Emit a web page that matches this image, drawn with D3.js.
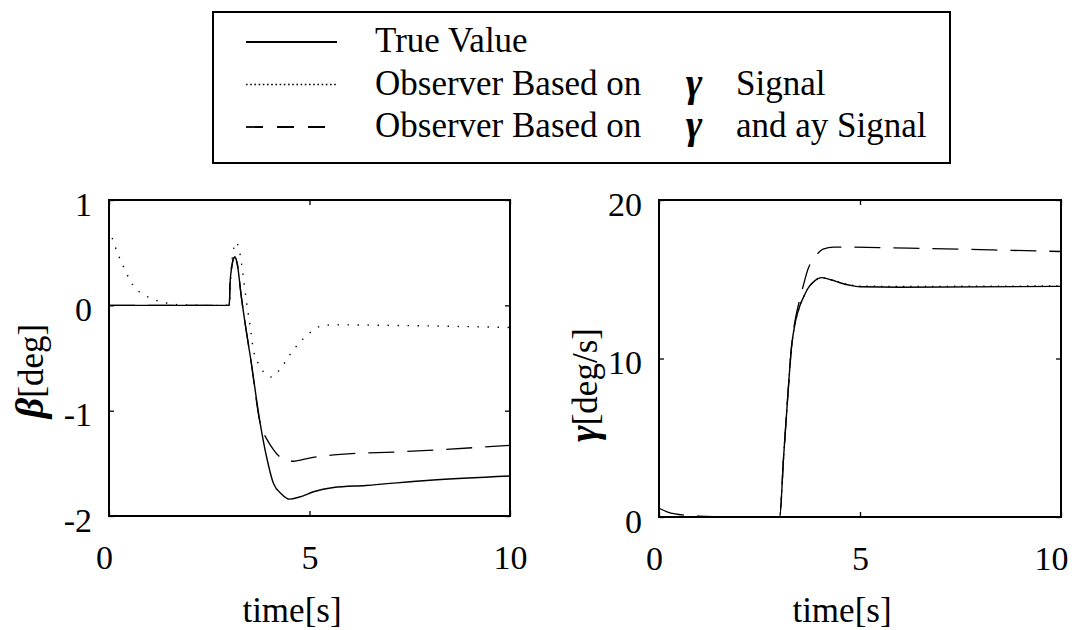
<!DOCTYPE html>
<html>
<head>
<meta charset="utf-8">
<script src="https://cdn.jsdelivr.net/npm/d3@7"></script>
<style>
body{margin:0;background:#fff;}
</style>
</head>
<body>
<script>
// tick values for both panels
var timeTicks = [0,5,10];
var betaTicks = [-2,-1,0,1];
var gammaTicks = [0,10,20];

// sideslip angle beta [deg] as [time, value]
var betaTrue = [[0,0],[3.0,0],[3.02,0.22],[3.06,0.36],[3.1,0.44],[3.14,0.46],[3.2,0.39],[3.3,0.08],[3.43,-0.26],[3.53,-0.5],[3.77,-1.12],[3.93,-1.44],[4.1,-1.69],[4.3,-1.79],[4.5,-1.84],[4.75,-1.82],[5.1,-1.77],[5.6,-1.73],[6.4,-1.71],[8,-1.66],[10,-1.62]];
var betaObsYaw = [[0,0.73],[0.23,0.48],[0.4,0.335],[0.52,0.24],[0.67,0.155],[0.86,0.104],[1.1,0.057],[1.31,0.035],[1.56,0.012],[1.9,0.003],[2.5,0],[3.0,0],[3.04,0.3],[3.1,0.52],[3.17,0.6],[3.25,0.52],[3.35,0.27],[3.43,0.03],[3.52,-0.2],[3.6,-0.42],[3.72,-0.55],[3.85,-0.63],[4.05,-0.68],[4.26,-0.61],[4.51,-0.47],[4.76,-0.35],[5.01,-0.26],[5.26,-0.2],[5.6,-0.185],[7,-0.19],[10,-0.21]];
var betaObsYawAy = [[0,0],[3.0,0],[3.02,0.22],[3.06,0.36],[3.1,0.44],[3.14,0.46],[3.2,0.39],[3.3,0.08],[3.43,-0.26],[3.53,-0.5],[3.77,-1.12],[3.95,-1.28],[4.1,-1.37],[4.26,-1.44],[4.45,-1.48],[4.6,-1.48],[5,-1.45],[5.6,-1.42],[7.3,-1.39],[10,-1.33]];

// yaw rate gamma [deg/s] as [time, value]
var gammaTrue = [[0,0],[3.0,0],[3.1,3.8],[3.2,7.5],[3.3,10.8],[3.4,12.4],[3.5,13.3],[3.6,13.9],[3.7,14.4],[3.85,14.85],[4.05,15.1],[4.3,14.95],[4.5,14.78],[4.75,14.62],[5.0,14.53],[6,14.5],[10,14.55]];
var gammaObsYaw = [[0,0],[3.0,0],[3.1,3.8],[3.2,7.5],[3.3,10.8],[3.4,12.4],[3.5,13.3],[3.6,13.9],[3.7,14.4],[3.85,14.85],[4.05,15.1],[4.3,14.95],[4.5,14.8],[4.75,14.64],[5.0,14.56],[6,14.55],[10,14.58]];
var gammaObsYawAy = [[0,0.55],[0.2,0.33],[0.4,0.19],[0.7,0.1],[1.0,0.05],[1.5,0.02],[2,0],[3,0],[3.1,3.8],[3.2,7.5],[3.3,10.85],[3.4,12.6],[3.5,13.7],[3.6,14.7],[3.7,15.6],[3.88,16.4],[4.08,16.9],[4.35,17.03],[5.5,17.0],[6.5,16.95],[8.3,16.85],[10,16.75]];

// legend rows: label before the gamma symbol, label after it
var legendHeads = ['True Value','Observer Based on','Observer Based on'];
var legendTails = ['','Signal','and ay Signal'];

var width = 1076, height = 630;
var font = "'Liberation Serif','Times New Roman',serif";

var svg = d3.select('body').append('svg')
	.attr('width',width).attr('height',height)
	.attr('font-family',font);

// legend box
var legend = svg.append('g');
legend.append('rect')
	.attr('x',213).attr('y',12).attr('width',737).attr('height',151)
	.attr('fill','none').attr('stroke','#000').attr('stroke-width',2);

var dashes = [null,'1.6,2.6','17,14'];
legendHeads.forEach((name,i)=>{
	var base = 52 + i*42.5;
	legend.append('line')
		.attr('x1',246).attr('x2',337)
		.attr('y1',base-10).attr('y2',base-10)
		.attr('stroke','#000').attr('stroke-width',i==1?1.6:1.8)
		.attr('stroke-dasharray',dashes[i]);
	legend.append('text').attr('x',375).attr('y',base)
		.attr('font-size',35).text(name);
	if(i>0){
		legend.append('text').attr('x',694).attr('y',base+1)
			.attr('text-anchor','middle').attr('font-size',40)
			.attr('font-weight','bold').attr('font-style','italic')
			.text('γ');
		legend.append('text').attr('x',736).attr('y',base)
			.attr('font-size',35).text(legendTails[i]);
	}
});

var panels = [
	{x0:109,x1:510,y0:200,y1:516,domain:[-2,1],ticks:betaTicks,
	 series:[betaTrue,betaObsYaw,betaObsYawAy],sym:'β',unit:'[deg]',
	 titleX:31,titleY:371,timeX:292,dot:'1.4,8.6',lastDx:0},
	{x0:659,x1:1061,y0:200,y1:517,domain:[0,20],ticks:gammaTicks,
	 series:[gammaTrue,gammaObsYaw,gammaObsYawAy],sym:'γ',unit:'[deg/s]',
	 titleX:585,titleY:385,timeX:842,dot:'1.4,5.9',lastDx:-10}
];

panels.forEach(p=>{
	var x = d3.scaleLinear().domain([0,10]).range([p.x0,p.x1]);
	var y = d3.scaleLinear().domain(p.domain).range([p.y1,p.y0]);
	var g = svg.append('g');

	var styleAxis = sel=>{
		sel.select('.domain').remove();
		sel.attr('font-family',font).attr('font-size',34);
		sel.selectAll('line').attr('stroke-width',1.3);
	};

	var xb = g.append('g').attr('transform',`translate(0,${p.y1})`)
		.call(d3.axisBottom(x).tickValues(timeTicks).tickSize(-5).tickPadding(29).tickFormat(d=>String(d)))
		.call(styleAxis);
	xb.selectAll('text').attr('dx',(d,i)=>i==0?-5:(i==timeTicks.length-1?p.lastDx:0));
	g.append('g').attr('transform',`translate(0,${p.y0})`)
		.call(d3.axisTop(x).tickValues(timeTicks).tickSize(-5).tickFormat(''))
		.call(styleAxis);
	g.append('g').attr('transform',`translate(${p.x0},0)`)
		.call(d3.axisLeft(y).tickValues(p.ticks).tickSize(-5).tickPadding(17).tickFormat(d=>String(d)))
		.call(styleAxis)
		.selectAll('text').attr('dy','0.45em');
	g.append('g').attr('transform',`translate(${p.x1},0)`)
		.call(d3.axisRight(y).tickValues(p.ticks).tickSize(-5).tickFormat(''))
		.call(styleAxis);

	var line = d3.line()
		.x(d=>x(d[0]))
		.y(d=>y(d[1]))
		.curve(d3.curveMonotoneX);

	var styles = [
		{w:1.4,dash:null},
		{w:1.4,dash:p.dot},
		{w:1.3,dash:'26,13'}
	];
	g.selectAll('path.curve')
		.data(p.series)
		.enter().append('path')
			.attr('class','curve')
			.attr('d',d=>line(d))
			.attr('fill','none')
			.attr('stroke','#000')
			.attr('stroke-width',(d,i)=>styles[i].w)
			.attr('stroke-dasharray',(d,i)=>styles[i].dash);

	// plot frame
	g.append('rect')
		.attr('x',p.x0).attr('y',p.y0)
		.attr('width',p.x1-p.x0).attr('height',p.y1-p.y0)
		.attr('fill','none').attr('stroke','#000').attr('stroke-width',2);

	g.append('text')
		.attr('x',p.timeX).attr('y',622)
		.attr('text-anchor','middle').attr('font-size',35)
		.text('time[s]');

	var title = g.append('text')
		.attr('transform',`translate(${p.titleX},${p.titleY}) rotate(-90)`)
		.attr('text-anchor','middle').attr('dy','0.35em').attr('font-size',35);
	title.append('tspan').attr('font-weight','bold').attr('font-style','italic')
		.attr('font-size',40).text(p.sym);
	title.append('tspan').text(p.unit);
});
</script>
</body>
</html>
